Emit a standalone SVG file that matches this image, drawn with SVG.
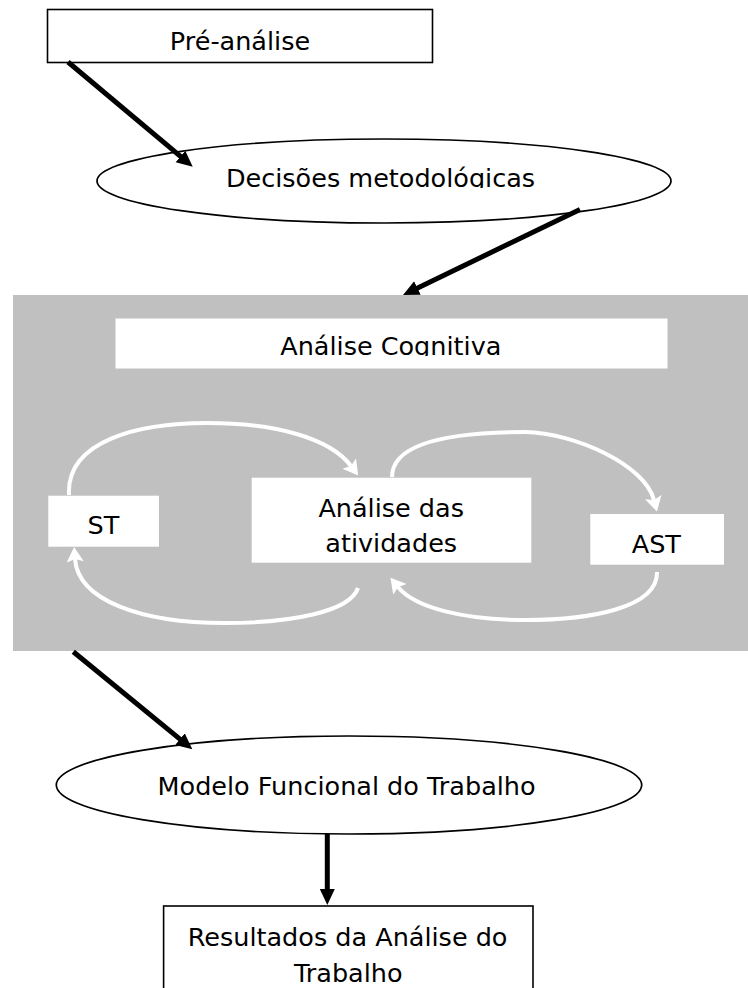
<svg xmlns="http://www.w3.org/2000/svg" width="748" height="988" viewBox="0 0 748 988">
<style>
  text { font-family: "DejaVu Sans", "Noto Sans", sans-serif; font-size: 25.5px; fill: #000; text-anchor: middle; }
  .box { fill: #fff; stroke: #000; stroke-width: 1.6; }
  .wbox { fill: #fff; stroke: none; }
  .ell { fill: #fff; stroke: #000; stroke-width: 1.7; }
  .blk { fill: none; stroke: #000; stroke-width: 5; }
  .wht { fill: none; stroke: #fff; stroke-width: 4; }
</style>
<defs>
  <marker id="ah" markerUnits="userSpaceOnUse" viewBox="0 0 16 16" markerWidth="16" markerHeight="16" refX="2" refY="8" orient="auto">
    <path d="M0,0.5 L16,8 L0,15.5 Z" fill="#000"/>
  </marker>
  <marker id="wh" markerUnits="userSpaceOnUse" viewBox="0 0 15 17" markerWidth="15" markerHeight="17" refX="3" refY="8.5" orient="auto">
    <path d="M0,0 L15,8.5 L0,17 L3,8.5 Z" fill="#fff"/>
  </marker>
  <clipPath id="clipDec"><rect x="0" y="0" width="748" height="188"/></clipPath>
  <clipPath id="clipCog"><rect x="0" y="300" width="748" height="56"/></clipPath>
</defs>

<g id="cognitive-area">
  <rect x="13" y="295" width="735" height="356" fill="#c0c0c0"/>
</g>

<g id="pre-analise">
  <rect class="box" x="47.5" y="9.5" width="385" height="53"/>
  <text x="240" y="50">Pré-análise</text>
</g>

<g id="decisoes">
  <ellipse class="ell" cx="384" cy="181" rx="287" ry="42"/>
  <text x="380.5" y="187" clip-path="url(#clipDec)">Decisões metodológicas</text>
</g>

<g id="analise-cognitiva">
  <rect class="wbox" x="115.5" y="318.5" width="552" height="50"/>
  <text x="390.8" y="355" clip-path="url(#clipCog)">Análise Cognitiva</text>
</g>

<g id="st">
  <rect class="wbox" x="48.3" y="495.7" width="110.7" height="51"/>
  <text x="103.5" y="534.3">ST</text>
</g>

<g id="analise-atividades">
  <rect class="wbox" x="251.7" y="477.7" width="279.6" height="85"/>
  <text x="391.2" y="516.7">Análise das</text>
  <text x="391.2" y="551.7">atividades</text>
</g>

<g id="ast">
  <rect class="wbox" x="590.3" y="514" width="133.7" height="50.7"/>
  <text x="656.3" y="552.7">AST</text>
</g>

<g id="modelo">
  <ellipse class="ell" cx="349" cy="785" rx="292.7" ry="49"/>
  <text x="346.6" y="795">Modelo Funcional do Trabalho</text>
</g>

<g id="resultados">
  <rect class="box" x="163.6" y="906" width="369.4" height="100"/>
  <text x="347.6" y="946">Resultados da Análise do</text>
  <text x="348.3" y="981.7">Trabalho</text>
</g>

<g id="connectors">
  <line class="blk" x1="68" y1="62" x2="182" y2="157.7" marker-end="url(#ah)"/>
  <line class="blk" x1="580" y1="209.5" x2="415.6" y2="288.9" marker-end="url(#ah)"/>
  <line class="blk" x1="73.3" y1="651.7" x2="181.5" y2="740.4" marker-end="url(#ah)"/>
  <line class="blk" x1="327.3" y1="834" x2="327.3" y2="891" marker-end="url(#ah)"/>

  <path class="wht" d="M69,495 C66,440 140,423 207,423 C275,423 330,438 351,466" marker-end="url(#wh)"/>
  <path class="wht" d="M392,477 C392,440 460,432 525,432 C575,433 645,465 654,500" marker-end="url(#wh)"/>
  <path class="wht" d="M657,572 C658,608 590,620 525,620 C465,620 415,608 398,587" marker-end="url(#wh)"/>
  <path class="wht" d="M358,588 C350,612 290,623 225,623 C140,623 78,600 75,559" marker-end="url(#wh)"/>
</g>
</svg>
